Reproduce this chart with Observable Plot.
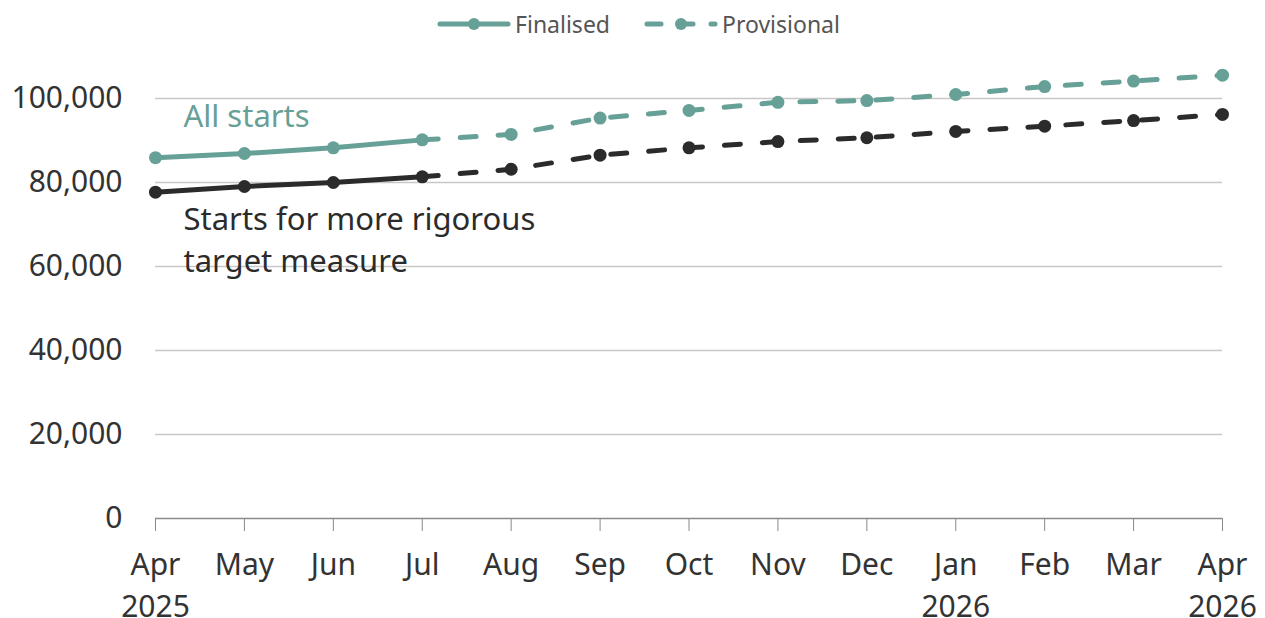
<!DOCTYPE html>
<html>
<head>
<meta charset="utf-8">
<script src="https://cdn.jsdelivr.net/npm/d3@7"></script>
<script src="https://cdn.jsdelivr.net/npm/@observablehq/plot@0.6"></script>
<style>
  html, body { margin: 0; padding: 0; background: #fff; font-family: "Noto Sans", sans-serif; overflow: hidden; }
  #legend { height: 48px; display: flex; justify-content: center; align-items: center; gap: 34px; font-size: 23px; color: #555; padding-left: 12px; box-sizing: border-box; }
  .item { display: flex; align-items: center; gap: 4px; }
  svg { display: block; }
</style>
</head>
<body>
<div id="legend"></div>
<div id="chart"></div>
<script>
const months = ["Apr 2025","May 2025","Jun 2025","Jul 2025","Aug 2025","Sep 2025","Oct 2025","Nov 2025","Dec 2025","Jan 2026","Feb 2026","Mar 2026","Apr 2026"];
const monthLabels = ["Apr","May","Jun","Jul","Aug","Sep","Oct","Nov","Dec","Jan","Feb","Mar","Apr"];
const yearLabels = ["2025","","","","","","","","","2026","","","2026"];
const allStarts = [85900, 86900, 88250, 90150, 91450, 95350, 97150, 99100, 99500, 100950, 102850, 104150, 105550];
const rigorous = [77700, 79050, 80000, 81350, 83150, 86500, 88250, 89750, 90650, 92150, 93400, 94750, 96200];
const finalisedCount = 4; // Apr–Jul 2025 finalised, Jul onwards provisional
const seriesNames = ["All starts", "Starts for more rigorous\ntarget measure"];
const legendNames = ["Finalised", "Provisional"];
const yTicks = [0, 20000, 40000, 60000, 80000, 100000];

const teal = "#66A096";
const dark = "#2B2B2B";
const colors = [teal, dark];

const rows = [];
[allStarts, rigorous].forEach((vals, s) => {
  vals.forEach((v, i) => {
    rows.push({series: seriesNames[s], s, month: months[i], i, value: v,
      finalised: i < finalisedCount, provisional: i >= finalisedCount - 1});
  });
});

const labels = [
  {text: seriesNames[0], month: months[0], value: 96300, s: 0},
  {text: seriesNames[1], month: months[0], value: 66900, s: 1}
];

const chart = Plot.plot({
  width: 1265,
  height: 570,
  marginLeft: 155,
  marginRight: 43,
  marginTop: 8,
  marginBottom: 100,
  style: {fontFamily: "Noto Sans, sans-serif", fontSize: "30px", color: "#333", background: "#fff", overflow: "visible"},
  x: {type: "point", domain: months, padding: 0, round: false, label: null},
  y: {domain: [0, 110000], label: null},
  marks: [
    Plot.gridY(yTicks.filter(d => d > 0), {stroke: "#c8c8c8", strokeOpacity: 1, strokeWidth: 1.5}),
    Plot.ruleY([0], {stroke: "#8a8a8a", strokeWidth: 1.5}),
    Plot.axisY({ticks: yTicks, tickSize: 0, tickPadding: 33, label: null, tickFormat: d => d3.format(",")(d), fontSize: 30, fill: "#333"}),
    Plot.axisX({tickSize: 13, tickPadding: 14, label: null, stroke: "#8a8a8a", fontSize: 30, fill: "#333", lineHeight: 1.4,
      tickFormat: d => { const k = months.indexOf(d); return monthLabels[k] + "\n" + yearLabels[k]; }}),
    Plot.line(rows.filter(d => d.finalised), {x: "month", y: "value", z: "series", stroke: d => colors[d.s], strokeWidth: 5}),
    Plot.line(rows.filter(d => d.provisional), {x: "month", y: "value", z: "series", stroke: d => colors[d.s], strokeWidth: 5, strokeDasharray: "16,22", strokeLinecap: "round"}),
    Plot.dot(rows, {x: "month", y: "value", r: 6.5, fill: d => colors[d.s], stroke: "none"}),
    Plot.text(labels, {x: "month", y: "value", text: "text", fill: d => colors[d.s], textAnchor: "start", dx: 28, fontSize: 31, lineHeight: 1.35})
  ]
});
document.getElementById("chart").appendChild(chart);

const legend = document.getElementById("legend");
legendNames.forEach((name, k) => {
  const item = document.createElement("div");
  item.className = "item";
  const dash = k === 1 ? 'stroke-dasharray="14,18"' : '';
  item.innerHTML = `<svg width="74" height="20"><line x1="3" y1="10" x2="71" y2="10" stroke="${teal}" stroke-width="5" stroke-linecap="round" ${dash}/><circle cx="37" cy="10" r="6" fill="${teal}"/></svg><span>${name}</span>`;
  legend.appendChild(item);
});
</script>
</body>
</html>
